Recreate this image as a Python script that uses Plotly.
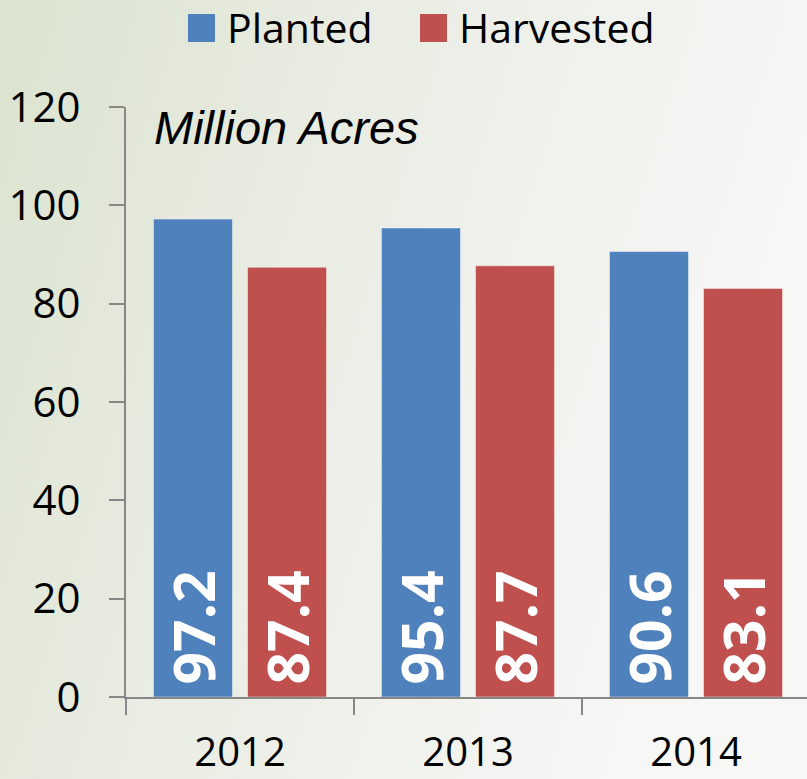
import base64
import plotly.graph_objects as go

years = ["2012", "2013", "2014"]
planted = [97.2, 95.4, 90.6]
harvested = [87.4, 87.7, 83.1]
series_names = ["Planted", "Harvested"]
series_colors = ["#4f81bd", "#c0504d"]
y_ticks = [0, 20, 40, 60, 80, 100, 120]

W, H = 807, 779
L, R, T, B = 126, 0, 107, 82
pw, ph = W - L - R, H - T - B

svg = f'''<svg xmlns="http://www.w3.org/2000/svg" width="{W}" height="{H}" preserveAspectRatio="none">
<defs><linearGradient id="g" x1="0" y1="0" x2="1" y2="0.3">
<stop offset="0" stop-color="#dbe3cf"/>
<stop offset="0.45" stop-color="#eaede4"/>
<stop offset="1" stop-color="#f7f7f6"/>
</linearGradient></defs>
<rect x="0" y="0" width="{W}" height="{H}" fill="url(#g)"/></svg>'''
bg_uri = "data:image/svg+xml;base64," + base64.b64encode(svg.encode()).decode()

fig = go.Figure()
for name, vals, col in zip(series_names, [planted, harvested], series_colors):
    fig.add_trace(go.Bar(
        x=years, y=vals, name=name,
        marker=dict(color=col, line=dict(color="rgba(255,255,255,0.45)", width=1)),
        text=["\u2009" + f"{v:.1f}" for v in vals],
        textposition="inside", insidetextanchor="start", textangle=-90,
        constraintext="none",
        textfont=dict(family="Open Sans", size=57, color="white", weight="bold"),
        showlegend=False, hoverinfo="skip",
    ))

axis_col = "#878787"
fig.update_layout(
    width=W, height=H,
    margin=dict(l=L, r=R, t=T, b=B, pad=0, autoexpand=False),
    paper_bgcolor="#eef0ea", plot_bgcolor="rgba(0,0,0,0)",
    barmode="group", bargap=0.175, bargroupgap=0.16,
    font=dict(family="Open Sans", color="black"),
    xaxis=dict(type="category", range=[-0.5, -0.5 + 3 * pw / 684],
               showline=True, linecolor=axis_col, linewidth=2,
               ticks="outside", tickson="boundaries", ticklen=16, tickwidth=2,
               tickcolor=axis_col, showgrid=False, automargin=False,
               tickfont=dict(family="Open Sans", size=40, color="black"),
               ticklabelstandoff=19),
    yaxis=dict(range=[0, 120], tickvals=y_ticks, showline=True, linecolor=axis_col,
               linewidth=2, ticks="outside", ticklen=15, tickwidth=2,
               tickcolor=axis_col, showgrid=False, zeroline=False, automargin=False,
               tickfont=dict(family="Open Sans", size=42, color="black"),
               ticklabelstandoff=20),
    images=[dict(source=bg_uri, xref="paper", yref="paper",
                 x=-L / pw, y=1 + T / ph, sizex=W / pw, sizey=H / ph,
                 xanchor="left", yanchor="top", sizing="stretch", layer="below")],
)

fig.add_annotation(text="<i>Million Acres</i>", xref="paper", yref="paper",
                   x=(152 - L) / pw, y=(697 - 127) / ph, xanchor="left", yanchor="middle",
                   showarrow=False, font=dict(family="Liberation Sans", size=47, color="black"))

# legend drawn manually (larger swatches)
leg_x = [188, 420]
for i, (name, col) in enumerate(zip(series_names, series_colors)):
    x0 = leg_x[i]
    fig.add_shape(type="rect", xref="paper", yref="paper",
                  x0=(x0 - L) / pw, x1=(x0 + 27 - L) / pw,
                  y0=(697 - 42) / ph, y1=(697 - 14) / ph,
                  fillcolor=col, line=dict(width=0))
    fig.add_annotation(text=name, xref="paper", yref="paper",
                       x=(x0 + 37 - L) / pw, y=(697 - 27) / ph,
                       xanchor="left", yanchor="middle", showarrow=False,
                       font=dict(family="Open Sans", size=41, color="black"))

fig.write_html("out.html", config={"displayModeBar": False},
               post_script="document.body.style.margin='0';document.body.style.overflow='hidden';")
